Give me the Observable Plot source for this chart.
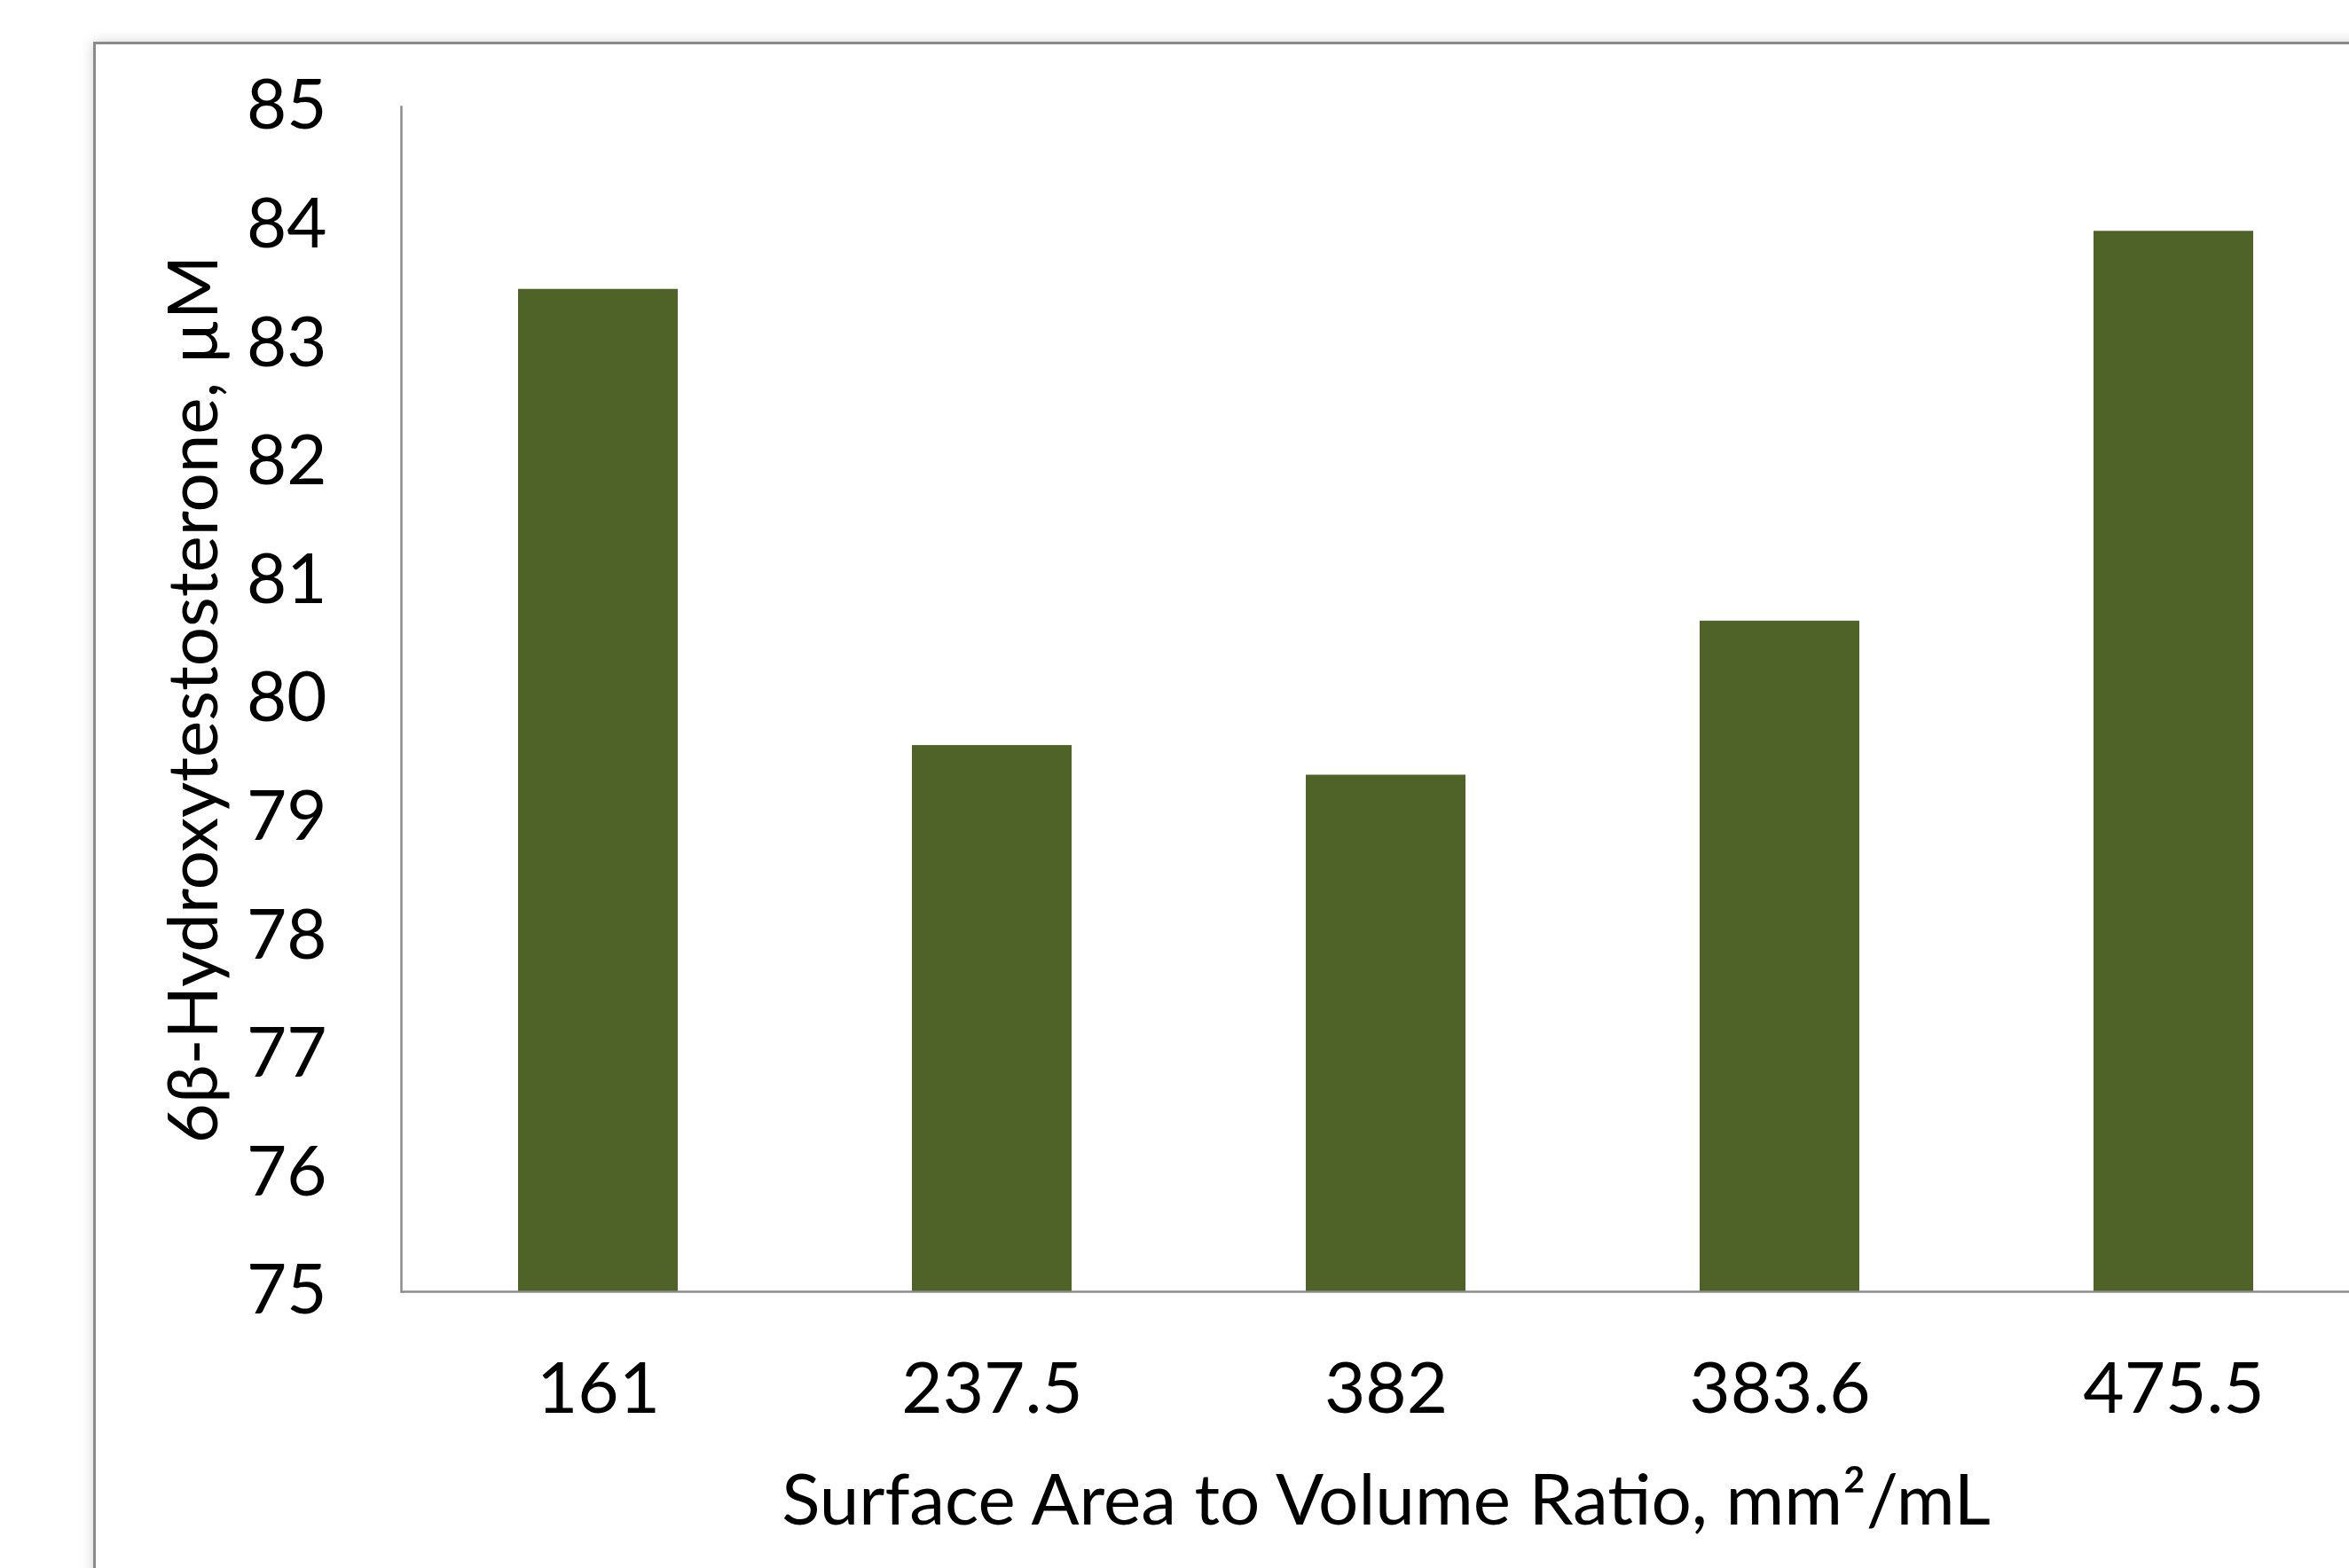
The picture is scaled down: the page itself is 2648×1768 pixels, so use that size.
<!DOCTYPE html>
<html>
<head>
<meta charset="utf-8">
<script src="https://cdn.jsdelivr.net/npm/d3@7"></script>
<script src="https://cdn.jsdelivr.net/npm/@observablehq/plot@0.6"></script>
<style>
  html, body { margin: 0; padding: 0; background: #ffffff; overflow: hidden; width: 2648px; height: 1768px; }
  #frame {
    position: absolute; left: 105px; top: 47px; width: 2700px; height: 1800px;
    border: 3px solid #8a8a8a; box-shadow: 0 0 14px rgba(0,0,0,0.18); background: #fff;
  }
  #chart { position: absolute; left: 0; top: 0; }
  #chart svg { background: transparent; max-width: none; }
</style>
</head>
<body>
<div id="frame"></div>
<div id="chart"></div>
<script>
const categories = ["161", "237.5", "382", "383.6", "475.5"];
const values = [83.46, 79.61, 79.36, 80.66, 83.95];
const yTicks = [75, 76, 77, 78, 79, 80, 81, 82, 83, 84, 85];
const xLabel = "Surface Area to Volume Ratio, mm²/mL";
const yLabel = "6β-Hydroxytestosterone, µM";

const data = categories.map((c, i) => ({cat: c, val: values[i]}));

const chart = Plot.plot({
  width: 2700,
  height: 1768,
  marginLeft: 452,
  marginRight: 28,
  marginTop: 120,
  marginBottom: 312,
  style: {fontFamily: "Lato, 'Open Sans', sans-serif", fontSize: "78px", color: "#000", background: "transparent", maxWidth: "none"},
  x: {domain: categories, paddingInner: 0.595, paddingOuter: 0.2975},
  y: {domain: [75, 85]},
  marks: [
    Plot.barY(data, {x: "cat", y1: 75, y2: "val", fill: "#4F6228"}),
    Plot.ruleY([75], {stroke: "#8c8c8c", strokeWidth: 2.5}),
    Plot.axisY({ticks: yTicks, tickSize: 0, tickPadding: 84, fontSize: 78, label: yLabel, labelAnchor: "center", labelArrow: "none", labelOffset: 263}),
    Plot.axisX({tickSize: 0, tickPadding: 80, fontSize: 80, label: xLabel, labelAnchor: "center", labelArrow: "none", labelOffset: 262}),
    Plot.frame({anchor: "left", stroke: "#8c8c8c", strokeWidth: 2.5})
  ]
});
document.getElementById("chart").appendChild(chart);
</script>
</body>
</html>
